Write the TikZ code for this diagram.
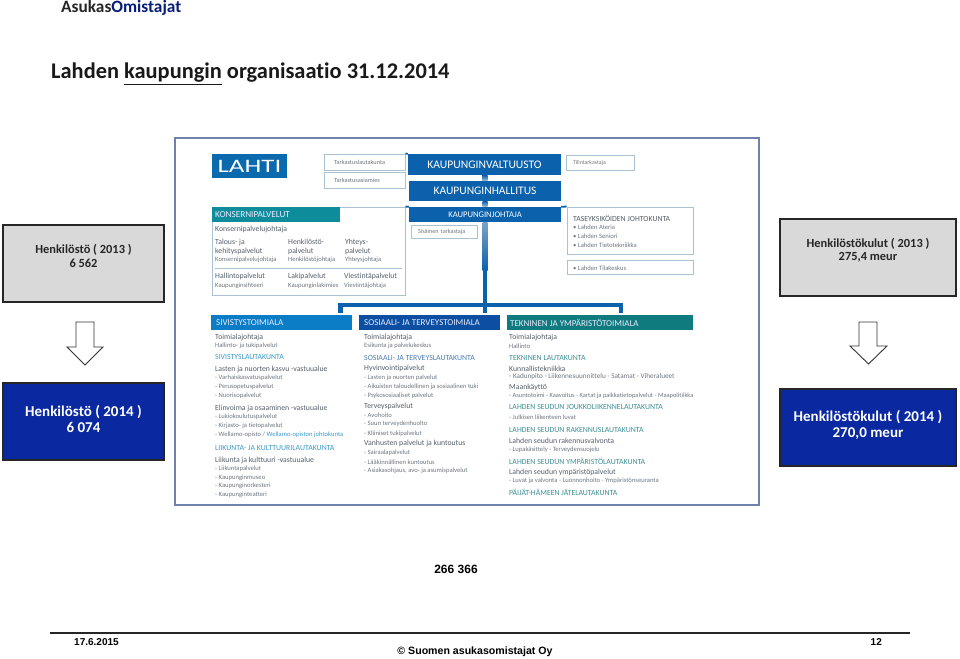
\documentclass[tikz,border=0pt]{standalone}
\usepackage{graphicx}
\usepackage{fontspec}
\setmainfont{Carlito}[Ligatures=CommonOff]
\newfontfamily\arialf{Liberation Sans}
\usetikzlibrary{calc}
\newcommand{\fsz}[1]{\fontsize{#1}{#1}\selectfont}
\definecolor{statgray}{HTML}{D9D9D9}
\definecolor{statblue}{HTML}{0A28A0}
\definecolor{framec}{HTML}{6F82AC}
\definecolor{orgblue}{HTML}{0B61AC}
\definecolor{lahtib}{HTML}{0B69AD}
\definecolor{konsern}{HTML}{0D8C9B}
\definecolor{sivis}{HTML}{0B7DC6}
\definecolor{sosi}{HTML}{0B4EA2}
\definecolor{tekn}{HTML}{0F7B7E}
\definecolor{soft}{HTML}{A9C1D3}
\definecolor{txa}{HTML}{55606A}
\definecolor{txb}{HTML}{6E7880}
\definecolor{hsiv}{HTML}{3E9AC8}
\definecolor{hsos}{HTML}{4C7FB5}
\definecolor{htek}{HTML}{3E9096}
\tikzset{
 x=1pt,y=-1pt,
 statbox/.style={draw=black!85,line width=2.4pt,inner sep=0pt,align=center,font=\bfseries},
 old/.style={statbox,fill=statgray},
 new/.style={statbox,fill=statblue},
 oldtext/.style={inner sep=0pt,align=center,text=black!85,font=\bfseries\fsz{12.4}},
 newtext/.style={inner sep=0pt,align=center,text=white,font=\bfseries\fsz{15}},
 downarrow/.style={draw=black!80,fill=white,line width=0.9pt},
 orgbar/.style={fill=orgblue,text=white,inner sep=0pt,font=\fsz{11.6}},
 softbox/.style={draw=soft,fill=white,line width=0.9pt,inner ysep=0pt,align=left},
 header/.style={text=white!92!blue,inner sep=0pt,anchor=west,font=\fsz{9}},
 tx/.style={anchor=west,inner sep=0pt,text=txa,font=\fsz{7.75}},
 sm/.style={anchor=west,inner sep=0pt,text=txb,font=\fsz{6.6}},
 hs/.style={anchor=west,inner sep=0pt,text=hsiv,font=\fsz{7.8}},
 hb/.style={anchor=west,inner sep=0pt,text=hsos,font=\fsz{7.8}},
 ht/.style={anchor=west,inner sep=0pt,text=htek,font=\fsz{7.8}},
 foot/.style={inner sep=0pt,text=black,font=\arialf\bfseries\fsz{10}},
 bus/.style={draw=orgblue,line width=4.5pt},
 tab/.style={draw=orgblue,line width=1.8pt}
}
\begin{document}
\begin{tikzpicture}
\useasboundingbox (0,0) rectangle (960,658);
\fill[white] (0,0) rectangle (960,658);
% headings
\node[anchor=west,inner sep=0pt,font=\bfseries\fsz{17.3}] (brand) at (61,8) {\textcolor{black!85}{Asukas}\textcolor{statblue!75!black}{Omistajat}};
\node[anchor=west,inner sep=0pt,font=\bfseries\fsz{22.4},text=black!90] (title) at (51,74) {Lahden \underline{kaupungin} organisaatio 31.12.2014};
% stat boxes
\node[old,minimum width=161pt,minimum height=77pt] (s13) at (83.5,263.5) {};
\node[oldtext] (s13t) at (83.5,256) {Henkilöstö ( 2013 )\\[1pt]6 562};
\node[new,minimum width=161pt,minimum height=77pt] (s14) at (83.5,421.5) {};
\node[newtext] (s14t) at (83.5,419) {Henkilöstö ( 2014 )\\[1pt]6 074};
\node[old,minimum width=176pt,minimum height=77pt] (k13) at (868,257.5) {};
\node[oldtext] (k13t) at (868,250) {Henkilöstökulut ( 2013 )\\[1pt]275,4 meur};
\node[new,minimum width=176pt,minimum height=77pt] (k14) at (868,427.5) {};
\node[newtext] (k14t) at (868,425) {Henkilöstökulut ( 2014 )\\[1pt]270,0 meur};
% arrows
\draw[downarrow] (76,322) -- (94,322) -- (94,347) -- (103,347) -- (85,365) -- (67,347) -- (76,347) -- cycle;
\draw[downarrow] (859,322) -- (877,322) -- (877,346) -- (887,346) -- (868.5,364) -- (850,346) -- (859,346) -- cycle;
% org chart frame
\node[draw=framec,fill=white,line width=1.2pt,minimum width=584pt,minimum height=367pt,inner sep=0pt] (frame) at (467,321.5) {};
\node[fill=lahtib,text=white,minimum width=75pt,minimum height=24pt,inner sep=0pt,font=\fsz{19}] (lahti) at (249.5,166) {\scalebox{1.42}[1]{LAHTI}};
\node[softbox,minimum width=81pt,minimum height=16pt,inner xsep=10pt,text width=61pt,font=\color{txb}\fsz{6.3}] (tlk) at (364.5,162) {Tarkastuslautakunta};
\node[softbox,minimum width=81pt,minimum height=16pt,inner xsep=10pt,text width=61pt,font=\color{txb}\fsz{6.3}] (tas) at (364.5,180) {Tarkastusasiamies};
\node[orgbar,minimum width=153pt,minimum height=21pt] (valt) at (484.5,164.5) {KAUPUNGINVALTUUSTO};
\node[orgbar,minimum width=152pt,minimum height=20pt,font=\fsz{11.5}] (hall) at (485,191) {KAUPUNGINHALLITUS};
\node[softbox,minimum width=193pt,minimum height=88pt,inner xsep=0pt] (konsbox) at (308.5,251) {};
\node[orgbar,minimum width=152pt,minimum height=15pt,font=\fsz{8.6}] (joht) at (485,214.5) {KAUPUNGINJOHTAJA};
\node[softbox,minimum width=66pt,minimum height=13pt,inner xsep=7pt,text width=52pt,font=\color{txb}\fsz{6.2}] (sis) at (444,231.5) {Sisäinen tarkastaja};
\node[softbox,minimum width=68pt,minimum height=15pt,inner xsep=7pt,text width=54pt,font=\color{txb}\fsz{5.8}] (tili) at (600,162.5) {Tilintarkastaja};
\node[softbox,minimum width=126pt,minimum height=47pt,inner xsep=0pt] (tase) at (630,230.5) {};
\node[softbox,minimum width=126pt,minimum height=14pt,inner xsep=0pt] (tila) at (630,267) {};
\node[inner sep=0pt,fill=konsern,minimum width=128pt,minimum height=15pt] (konshead) at (276,214.5) {};
\node[fill=sivis,inner sep=0pt,minimum width=141pt,minimum height=15.5pt] (sivbar) at (281.5,322.5) {};
\node[fill=sosi,inner sep=0pt,minimum width=141pt,minimum height=15.5pt] (sosbar) at (429.5,322.5) {};
\node[fill=tekn,inner sep=0pt,minimum width=186pt,minimum height=15.5pt] (tekbar) at (600,322.5) {};
% connectors
\shade[top color=orgblue,bottom color=soft] ($(valt.south)+(-2.5,0)$) rectangle ($(hall.north)+(2.5,0)$);
\shade[top color=orgblue,bottom color=soft] ($(hall.south)+(-2.5,0)$) rectangle ($(joht.north)+(2.5,0)$);
\shade[top color=soft!70!orgblue,bottom color=orgblue] ($(joht.south)+(-2.5,0)$) rectangle ($(joht.south)+(2.5,48)$);
\coordinate (trunk) at ($(joht.south)+(0,48)$);
\coordinate (busmid) at ($(trunk|-sosbar.north)+(0,-1.5)$);
\coordinate (busl) at (340.5,313);
\coordinate (busr) at (621,313);
\draw[bus] (trunk) -- (busmid);
\draw[bus] (busl) -- (340.5,305) -- (621,305) -- (busr);
\draw[tab] (tlk.north east) -- (valt.north west);
\draw[tab] (konsbox.north east) -- (joht.north west);
\draw[tab] (joht.north east) -- (tase.north west);
% top text
\node[header,font=\fsz{9.2}] (kt) at (215,214.5) {KONSERNIPALVELUT};
\foreach \xx/\yy/\sty/\txt [count=\i] in {
 215/229/tx/Konsernipalvelujohtaja,
 215/242/tx/Talous- ja,215/251/tx/kehityspalvelut,215/260/sm/Konsernipalvelujohtaja,
 288/242/tx/Henkilöstö-,288/251/tx/palvelut,288/260/sm/Henkilöstöjohtaja,
 345/242/tx/Yhteys-,345/251/tx/palvelut,345/260/sm/Yhteysjohtaja,
 215/276/tx/Hallintopalvelut,215/286/sm/Kaupunginsihteeri,
 288/276/tx/Lakipalvelut,288/286/sm/Kaupunginlakimies,
 344/276/tx/Viestintäpalvelut,344/286/sm/Viestintäjohtaja}
 \node[\sty] (kons\i) at (\xx,\yy) {\txt};
\draw[soft,line width=0.9pt] (kons1.west|-konsbox.center) ++(0,17) coordinate (rl) -- (402,268);
\foreach \yy/\sty/\txt [count=\i] in {
 218/tx/TASEYKSIKÖIDEN JOHTOKUNTA,
 227/sm/• Lahden Ateria,
 236/sm/• Lahden Seniori,
 245/sm/• Lahden Tietotekniikka,
 268/sm/• Lahden Tilakeskus}
 \node[\sty] (ta\i) at (573,\yy) {\txt};
% Sivistys
\node[header] (sivt) at (216,322.5) {SIVISTYSTOIMIALA};
\foreach \yy/\sty/\txt [count=\i] in {
 337/tx/Toimialajohtaja,
 346/sm/Hallinto- ja tukipalvelut,
 357/hs/SIVISTYSLAUTAKUNTA,
 369/tx/Lasten ja nuorten kasvu -vastuualue,
 378/sm/- Varhaiskasvatuspalvelut,
 387/sm/- Perusopetuspalvelut,
 396/sm/- Nuorisopalvelut,
 408/tx/Elinvoima ja osaaminen -vastuualue,
 417/sm/- Lukiokoulutuspalvelut,
 426/sm/- Kirjasto- ja tietopalvelut,
 435/sm/{- Wellamo-opisto \textcolor{hsiv}{/ Wellamo-opiston johtokunta}},
 448/hs/LIIKUNTA- JA KULTTUURILAUTAKUNTA,
 460/tx/Liikunta ja kulttuuri -vastuualue,
 469/sm/- Liikuntapalvelut,
 478/sm/- Kaupunginmuseo,
 486/sm/- Kaupunginorkesteri,
 495/sm/- Kaupunginteatteri}
 \node[\sty] (siv\i) at (215,\yy) {\txt};
% Sosiaali
\node[header] (sost) at (364,322.5) {SOSIAALI- JA TERVEYSTOIMIALA};
\foreach \yy/\sty/\txt [count=\i] in {
 337/tx/Toimialajohtaja,
 346/sm/Esikunta ja palvelukeskus,
 358/hb/SOSIAALI- JA TERVEYSLAUTAKUNTA,
 368/tx/Hyvinvointipalvelut,
 378/sm/- Lasten ja nuorten palvelut,
 387/sm/- Aikuisten taloudellinen ja sosiaalinen tuki,
 396/sm/- Psykososiaaliset palvelut,
 406/tx/Terveyspalvelut,
 415/sm/- Avohoito,
 424/sm/- Suun terveydenhuolto,
 434/sm/- Kliiniset tukipalvelut,
 443/tx/Vanhusten palvelut ja kuntoutus,
 453/sm/- Sairaalapalvelut,
 462/sm/- Lääkinnällinen kuntoutus,
 471/sm/{- Asiakasohjaus, avo- ja asumispalvelut}}
 \node[\sty] (sos\i) at (364,\yy) {\txt};
% Tekninen
\node[header] (tekt) at (510,322.5) {TEKNINEN JA YMPÄRISTÖTOIMIALA};
\foreach \yy/\sty/\txt [count=\i] in {
 337/tx/Toimialajohtaja,
 346/sm/Hallinto,
 358/ht/TEKNINEN LAUTAKUNTA,
 369/tx/Kunnallistekniikka,
 377/sm/{\fsz{7.2}- Kadunpito - Liikennesuunnittelu - Satamat - Viheralueet},
 387/tx/Maankäyttö,
 396/sm/{\fsz{6.45}- Asuntotoimi - Kaavoitus - Kartat ja paikkatietopalvelut - Maapolitiikka},
 407/ht/LAHDEN SEUDUN JOUKKOLIIKENNELAUTAKUNTA,
 417/sm/- Julkisen liikenteen luvat,
 430/ht/LAHDEN SEUDUN RAKENNUSLAUTAKUNTA,
 441/tx/Lahden seudun rakennusvalvonta,
 450/sm/- Lupakäsittely - Terveydensuojelu,
 461/ht/LAHDEN SEUDUN YMPÄRISTÖLAUTAKUNTA,
 472/tx/Lahden seudun ympäristöpalvelut,
 481/sm/- Luvat ja valvonta - Luonnonhoito - Ympäristönseuranta,
 492/ht/PÄIJÄT-HÄMEEN JÄTELAUTAKUNTA}
 \node[\sty] (tek\i) at (509,\yy) {\txt};
% footer
\node[foot,font=\arialf\bfseries\fsz{12}] (cnt) at (456,569) {266 366};
\coordinate (fl) at (50,633);
\coordinate (fr) at (910,633);
\draw[black!85,line width=1.4pt] (fl) -- (fr);
\node[foot,anchor=west] (date) at (74,642) {17.6.2015};
\node[foot,anchor=east] (pg) at (882,642) {12};
\node[foot,font=\arialf\bfseries\fsz{10.6}] (copy) at (475,652) {© Suomen asukasomistajat Oy};
\end{tikzpicture}
\end{document}
